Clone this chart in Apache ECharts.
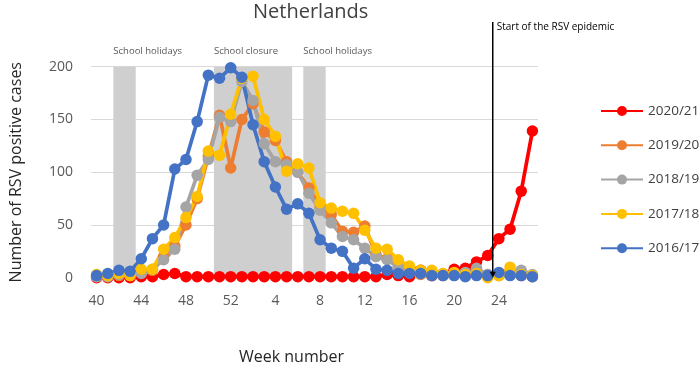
<!DOCTYPE html>
<html>
<head>
<meta charset="utf-8">
<script src="https://cdn.jsdelivr.net/npm/echarts@6/dist/echarts.min.js"></script>
<style>html,body{margin:0;padding:0;background:#fff}#c{width:700px;height:368px}</style>
</head>
<body>
<div id="c"></div>
<script>
// ---- data ----
const weeks = [40,41,42,43,44,45,46,47,48,49,50,51,52,1,2,3,4,5,6,7,8,9,10,11,12,13,14,15,16,17,18,19,20,21,22,23,24,25,26,27];
const xTickWeeks = [40,44,48,52,4,8,12,16,20,24];
const yTicks = [0,50,100,150,200];
const seasonNames = ['2020/21','2019/20','2018/19','2017/18','2016/17'];
const s2020_21 = [0,0,0,0,1,1,3,4,1,1, 1,1,1,1,1,1,1,1,1,1, 1,1,1,1,1,1,3,2,1,7, 2,3,8,9,15,21,37,46,82,139];
const s2019_20 = [1,1,2,2,5,7,20,30,50,75, 115,154,104,150,165,138,130,110,100,85, 67,60,44,43,49,22,18,10,5,3, 2,2,3,3,4,3,2,3,2,1];
const s2018_19 = [1,1,3,3,4,8,17,27,67,97, 112,152,148,186,168,127,110,107,100,80, 64,52,39,36,28,20,17,10,5,4, 3,4,4,5,9,3,3,3,7,3];
const s2017_18 = [3,2,4,2,8,8,27,38,57,77, 120,116,155,189,191,150,134,101,108,104, 71,66,63,61,45,28,27,17,11,7, 7,4,5,3,4,0,2,10,3,2];
const s2016_17 = [2,4,7,6,18,37,50,103,112,148, 192,189,199,190,145,110,86,65,70,61, 36,28,25,9,18,8,7,4,4,4, 2,2,2,1,2,2,5,2,2,1];
const bandNames = ['School holidays','School closure','School holidays'];
const bandFirstWeeks = [42,51,7];
const bandLastWeeks = [43,5,8];
const epidemicLabel = 'Start of the RSV epidemic';
const epidemicWeek = 24;
const titleText = 'Netherlands';
const xName = 'Week number';
const yName = 'Number of RSV positive cases';

// ---- styling ----
const colors = ['#FF0000','#ED7D31','#A5A5A5','#FFC000','#4472C4'];
const seriesData = [s2020_21, s2019_20, s2018_19, s2017_18, s2016_17];
const FONT = 'Open Sans';

const bands = bandNames.map((n, k) => [
  { name: n, xAxis: weeks.indexOf(bandFirstWeeks[k]) - 0.5 },
  { xAxis: weeks.indexOf(bandLastWeeks[k]) + 0.5 }
]);

const series = seasonNames.map((name, k) => {
  const s = {
    name: name,
    type: 'line',
    data: seriesData[k].map((v, i) => [i, v]),
    symbol: 'circle',
    symbolSize: 11.5,
    showSymbol: true,
    color: colors[k],
    lineStyle: { width: 3.7, color: colors[k] },
    itemStyle: { color: colors[k] },
    emphasis: { disabled: true },
    animation: false,
    z: 2
  };
  if (k === 0) {
    s.markArea = {
      silent: true,
      z: 1,
      itemStyle: { color: '#CFCFCF' },
      label: { show: true, position: [0, -20], fontSize: 9.5, color: '#595959', fontFamily: FONT },
      data: bands
    };
  }
  return s;
});

const chart = echarts.init(document.getElementById('c'), null, { renderer: 'canvas' });
const option = {
  animation: false,
  backgroundColor: '#ffffff',
  title: {
    text: titleText,
    left: 253, top: 2, padding: 0,
    textStyle: { fontFamily: FONT, fontSize: 20, fontWeight: 'normal', color: '#404040' }
  },
  legend: {
    data: seasonNames,
    orient: 'vertical',
    left: 595, top: 98,
    itemWidth: 42, itemHeight: 12.5, itemGap: 18.3,
    selectedMode: false,
    textStyle: { fontFamily: FONT, fontSize: 13.5, color: '#404040', lineHeight: 16 }
  },
  grid: { left: 87.7, right: 162, top: 66.7, bottom: 90.3, containLabel: false },
  xAxis: {
    type: 'value',
    min: -0.5, max: 39.5,
    axisLine: { show: false },
    axisTick: { show: false },
    splitLine: { show: false },
    axisLabel: {
      customValues: xTickWeeks.map(w => weeks.indexOf(w)),
      formatter: v => String(weeks[v]),
      margin: 16, fontFamily: FONT, fontSize: 14, color: '#595959'
    }
  },
  yAxis: {
    type: 'value',
    min: yTicks[0], max: yTicks[yTicks.length - 1], interval: yTicks[1] - yTicks[0],
    name: yName, nameLocation: 'middle', nameGap: 67,
    nameTextStyle: { fontFamily: FONT, fontSize: 16, color: '#262626' },
    axisLine: { show: false },
    axisTick: { show: false },
    splitLine: { lineStyle: { color: '#D9D9D9', width: 1 } },
    axisLabel: { margin: 18, fontFamily: FONT, fontSize: 14, color: '#595959' }
  },
  series: series
};
chart.setOption(option);

const bottomPt = chart.convertToPixel({ xAxisIndex: 0, yAxisIndex: 0 }, [weeks.indexOf(epidemicWeek) - 0.55, yTicks[0]]);
const lx = bottomPt[0], ly = bottomPt[1];
const midX = chart.convertToPixel({ xAxisIndex: 0, yAxisIndex: 0 }, [(-0.5 + 39.5) / 2, 0])[0];
chart.setOption({
  graphic: [
    { type: 'line', shape: { x1: lx, y1: 22, x2: lx, y2: ly - 5 }, style: { stroke: '#000', lineWidth: 1.5 }, z: 10, silent: true },
    { type: 'polygon', shape: { points: [[lx - 3, ly - 6], [lx + 3, ly - 6], [lx, ly]] }, style: { fill: '#000' }, z: 10, silent: true },
    { type: 'text', x: lx + 4, y: 27, style: { text: epidemicLabel, fontFamily: FONT, fontSize: 10, fill: '#000', verticalAlign: 'middle', align: 'left' }, z: 10, silent: true },
    { type: 'text', x: midX - 23, y: 357, style: { text: xName, fontFamily: FONT, fontSize: 16, fill: '#262626', verticalAlign: 'middle', align: 'center' }, silent: true }
  ]
});
</script>
</body>
</html>
